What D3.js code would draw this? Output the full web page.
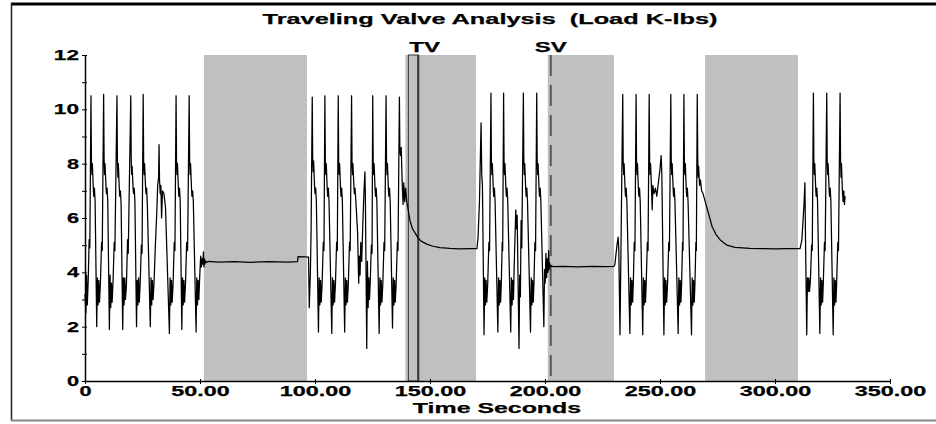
<!DOCTYPE html>
<html>
<head>
<meta charset="utf-8">
<script src="https://cdn.jsdelivr.net/npm/d3@7"></script>
<style>
  body { margin: 0; background: #fff; }
  text { font-family: "Liberation Sans", Arial, sans-serif; font-weight: bold; fill: #000; stroke: #000; stroke-width: 0.25px; }
</style>
</head>
<body>
<div id="chart"></div>
<script>
const width = 936;
const height = 424;
const margin = {top: 55, right: 46, bottom: 43, left: 85};

// load trace, [seconds, K-lbs]
const segA = [
  [0,3.2],[0.4,2.5],[0.7,3.9],[1.0,2.8],[1.4,3.7],[1.8,5.2],[2.1,4.9],
  [2.6,10.5],[2.8,8.1],[3.0,7.6],[3.2,8.0],[3.6,7.1],[3.8,6.8],[4.1,7.1],[4.4,6.6],[5.1,2.0],[5.4,3.8],[5.7,2.8],[6.0,3.7],[6.3,2.9],[6.7,3.6],[7.2,5.1],[7.5,4.8],
  [8.1,10.55],[8.3,8.2],[8.5,7.6],[8.7,8.0],[9.1,7.2],[9.3,6.9],[9.6,7.1],[9.9,6.6],[10.6,1.9],[10.9,3.9],[11.2,2.7],[11.5,3.6],[11.8,2.9],[12.2,3.7],[12.7,5.1],[13.0,4.8],
  [13.9,10.5],[14.1,8.1],[14.3,7.5],[14.5,8.0],[14.9,7.1],[15.1,6.8],[15.4,7.0],[15.7,6.5],[16.4,1.9],[16.7,3.8],[17.0,2.8],[17.3,3.8],[17.6,3.0],[18.0,3.5],[18.5,5.2],[18.8,4.7],
  [19.9,10.5],[20.1,8.2],[20.3,7.6],[20.5,7.9],[20.9,7.1],[21.1,6.9],[21.4,7.1],[21.7,6.6],[22.4,2.0],[22.7,3.7],[23.0,2.8],[23.3,3.8],[23.6,2.9],[24.0,3.6],[24.5,5.0],[24.8,4.7],
  [25.3,10.55],[25.5,8.1],[25.7,7.6],[25.9,8.0],[26.3,7.2],[26.5,6.9],[26.8,7.1],[27.1,6.5],[28.4,2.0],[28.7,3.8],[29.0,2.8],[29.3,3.7],[29.6,3.0],[30.0,3.6],[30.6,5.0],[31.2,6.2],[31.6,7.2],[32.0,7.5],[32.2,8.7],[32.4,7.4],[32.7,6.9],[33.0,7.2],[33.3,6.0],[33.7,7.0],[34.3,6.9],[35.0,6.4],[36.7,1.75],[37.0,3.8],[37.3,2.8],[37.6,3.7],[37.9,2.9],[38.3,3.6],[38.8,5.1],[39.1,4.8],
  [39.6,10.5],[39.8,8.1],[40.0,7.6],[40.2,8.0],[40.6,7.1],[40.8,6.8],[41.1,7.1],[41.4,6.6],[42.1,1.9],[42.4,3.8],[42.7,2.8],[43.0,3.7],[43.3,2.9],[43.7,3.6],[44.2,5.1],[44.6,4.8],
  [45.3,10.5],[45.5,8.1],[45.7,7.6],[45.9,8.0],[46.3,7.1],[46.5,6.8],[46.8,7.0],[47.1,6.6],[48.3,1.8],[48.6,3.8],[48.9,2.8],[49.2,3.7],[49.5,3.0],[49.9,3.9],[50.3,4.6],[50.6,4.2],[50.9,4.5],[51.2,4.3],[51.5,4.75],[51.7,4.2],[51.9,4.5],[52.1,4.3],[52.4,4.42],[52.8,4.36]
];
const segB = [
  [53.5,4.4],[58,4.38],[65,4.39],[72,4.37],[80,4.39],[88,4.38],[92.4,4.39],[92.6,4.58],[96,4.57],[97.2,4.56],[97.5,2.7],[98.0,4.0],[98.3,5.5]
];
const segC = [
  [98.8,10.45],[99.0,8.2],[99.2,7.7],[99.4,8.1],[99.8,7.2],[100.0,6.9],[100.3,7.1],[100.6,6.6],[101.5,1.8],[101.8,3.8],[102.1,2.8],[102.4,3.7],[102.7,2.9],[103.1,3.6],[103.6,5.1],[103.9,4.8],
  [104.3,10.5],[104.5,8.1],[104.7,7.6],[104.9,8.0],[105.3,7.1],[105.5,6.8],[105.8,7.1],[106.1,6.6],[107.3,1.75],[107.6,3.8],[107.9,2.8],[108.2,3.7],[108.5,2.9],[108.9,3.6],[109.4,5.1],[109.7,4.8],
  [110.1,10.5],[110.3,8.1],[110.5,7.6],[110.7,8.0],[111.1,7.1],[111.3,6.8],[111.6,7.1],[111.9,6.6],[112.9,1.8],[113.2,3.8],[113.5,2.8],[113.8,3.7],[114.1,2.9],[114.5,3.6],[115.0,5.1],[115.3,4.8],
  [115.9,10.5],[116.1,8.1],[116.3,7.6],[116.5,8.0],[116.9,7.2],[117.1,6.9],[117.4,7.1],[117.7,6.7],[118.5,5.5],[119.0,3.6],[119.3,4.6],[119.6,3.9],[119.9,5.1],[120.3,4.4],[120.8,5.8],[121.3,7.0],[121.7,7.7],[121.9,6.8],[122.5,1.2],[122.8,4.4],[123.1,2.7],[123.4,3.8],[123.7,3.0],[124.0,3.6],[124.5,5.0],[124.8,4.7],
  [125.1,10.5],[125.3,8.1],[125.5,7.6],[125.7,8.0],[126.1,7.1],[126.3,6.8],[126.6,7.1],[126.9,6.6],[127.9,1.75],[128.2,3.8],[128.5,2.8],[128.8,3.7],[129.1,2.9],[129.5,3.6],[130.0,5.1],[130.3,4.8],
  [130.9,10.5],[131.1,8.1],[131.3,7.6],[131.5,8.0],[131.9,7.1],[132.1,6.8],[132.4,7.1],[132.7,6.6],[133.7,1.95],[134.0,3.8],[134.3,2.8],[134.6,3.7],[134.9,2.9],[135.3,3.6],[135.8,5.1],[136.1,4.8]
];
const segD = [
  [136.7,10.45],[136.9,8.5],[137.2,8.3],[137.5,8.6],[137.9,7.3],[138.3,6.5],[138.6,7.3],[139.0,6.6],[139.4,7.1],[139.9,6.6],[141.3,5.9],[142.4,5.6],[143.5,5.45],[144.8,5.27],[146.1,5.15],[148.6,5.04],[151.3,4.96],[154.3,4.91],[158.7,4.88],[163,4.86],[167,4.87],[170.4,4.87]
];
const segE = [
  [170.9,5.3],[171.5,6.6],[172.2,9.5],[172.5,7.6],[172.8,7.2],[173.5,1.7],[173.8,3.8],[174.1,2.8],[174.4,3.7],[174.7,2.9],[175.1,3.6],[175.6,5.1],[175.9,4.8],
  [176.5,10.6],[176.7,8.1],[176.9,7.6],[177.1,8.0],[177.5,7.1],[177.7,6.8],[178.0,7.1],[178.3,6.6],[179.5,1.8],[179.8,3.8],[180.1,2.8],[180.4,3.7],[180.7,2.9],[181.0,3.6],[181.4,5.1],[181.6,4.8],
  [182.0,10.6],[182.2,8.1],[182.4,7.6],[182.6,8.0],[183.0,7.1],[183.2,6.8],[183.5,7.1],[183.8,6.6],[185.1,1.8],[185.4,3.8],[185.7,2.8],[186.0,3.7],[186.3,3.0],[186.6,4.2],[187.0,5.4],[187.3,6.3],[187.6,5.6],[187.9,6.1],[188.7,1.2],[189.0,3.9],[189.3,3.1],[189.6,5.9],[189.9,4.9],
  [190.6,10.6],[190.8,8.1],[191.0,7.6],[191.2,8.0],[191.6,7.1],[191.8,6.8],[192.1,7.1],[192.4,6.6],[193.7,1.8],[194.0,3.8],[194.3,2.8],[194.6,3.7],[194.9,2.9],[195.2,3.6],[195.6,5.1],[195.9,4.8],
  [196.4,10.6],[196.6,8.2],[196.8,7.6],[197.0,8.0],[197.4,7.1],[197.6,6.8],[197.9,7.1],[198.2,6.6],[199.5,2.0],[199.8,4.1],[200.1,3.6],[200.4,4.7],[200.7,3.8],[201.0,4.5],[201.3,4.0],[201.6,4.8],[201.8,4.1],[202.0,4.35],[202.3,4.2],[202.7,4.25]
];
const segF = [
  [203.5,4.21],[208,4.22],[214,4.2],[220,4.22],[226,4.21],[230.0,4.22],[230.4,4.3],[231.3,5.0],[231.8,5.3],[232.1,4.8],[232.6,1.7]
];
const segG = [
  [233.8,10.55],[234.0,8.1],[234.2,7.6],[234.4,8.0],[234.8,7.1],[235.0,6.8],[235.3,7.1],[235.6,6.6],[236.9,1.75],[237.2,3.8],[237.5,2.8],[237.8,3.7],[238.1,2.9],[238.4,3.6],[238.8,5.1],[239.1,4.8],
  [239.6,10.55],[239.8,8.1],[240.0,7.6],[240.2,8.0],[240.6,7.1],[240.8,6.8],[241.1,7.1],[241.4,6.6],[242.5,1.7],[242.8,3.8],[243.1,2.8],[243.4,3.7],[243.7,2.9],[244.0,3.6],[244.5,5.1],[244.8,4.8],
  [245.3,10.55],[245.5,8.1],[245.7,7.6],[245.9,8.0],[246.3,7.1],[246.6,6.3],[246.9,7.2],[247.4,6.9],[248.0,7.1],[248.6,6.8],[249.3,7.3],[250.0,7.8],[250.5,8.3],[250.8,7.6],[251.7,1.7],[252.0,3.8],[252.3,2.8],[252.6,3.7],[252.9,2.9],[253.3,3.6],[253.8,5.1],[254.1,4.8],
  [254.7,10.55],[254.9,8.1],[255.1,7.6],[255.3,8.0],[255.7,7.1],[255.9,6.8],[256.2,7.1],[256.5,6.6],[257.9,1.75],[258.2,3.8],[258.5,2.8],[258.8,3.7],[259.1,2.9],[259.4,3.6],[259.8,5.1],[260.0,4.8],
  [260.4,10.55],[260.6,8.1],[260.8,7.6],[261.0,8.0],[261.4,7.1],[261.6,6.8],[261.9,7.1],[262.2,6.6],[263.7,1.7],[264.0,3.8],[264.3,2.8],[264.6,3.7],[264.9,2.9],[265.2,3.6],[265.6,5.1],[265.8,4.8]
];
const segH = [
  [266.2,10.55],[266.4,8.3],[266.6,7.5],[266.8,7.9],[267.2,7.2],[267.6,7.4],[268.1,7.0],[268.7,6.9],[270.0,6.5],[271.3,6.1],[272.6,5.7],[274.3,5.4],[276.1,5.2],[279.1,5.0],[282.6,4.92],[289.1,4.88],[295,4.87],[300,4.86],[305,4.87],[310.9,4.87]
];
const segI = [
  [311.7,5.2],[312.6,6.5],[313.0,7.3],[313.3,5.0],[313.8,1.7],[314.1,3.8],[314.4,3.3],[314.7,3.8],[315.0,3.3],[315.4,3.7],[315.9,5.0],[316.2,4.8],
  [316.7,10.6],[316.9,8.1],[317.1,7.6],[317.3,8.0],[317.7,7.1],[317.9,6.8],[318.2,7.1],[318.5,6.6],[319.5,1.75],[319.8,3.8],[320.1,2.8],[320.4,3.7],[320.7,2.9],[321.0,3.6],[321.5,5.1],[321.8,4.8],
  [322.5,10.6],[322.7,8.1],[322.9,7.6],[323.1,8.0],[323.5,7.1],[323.7,6.8],[324.0,7.1],[324.3,6.6],[325.3,1.7],[325.6,3.8],[325.9,2.8],[326.2,3.7],[326.5,2.9],[326.8,3.6],[327.3,5.1],[327.6,4.8],
  [328.3,10.6],[328.5,8.2],[328.7,7.5],[328.9,8.0],[329.3,7.0],[329.6,6.6],[329.9,7.0],[330.2,6.5],[330.5,6.8]
];

// shaded test windows (seconds)
const shadeStart = [51.7, 139.3, 201.2, 269.6];
const shadeEnd = [96.5, 170.0, 230.0, 310.0];
const tvWindow = [140.6, 144.9];
const svTime = 202.5;

const xTicks = [0, 50, 100, 150, 200, 250, 300, 350];
const yTicks = [0, 1, 2, 3, 4, 5, 6, 7, 8, 9, 10, 11, 12];
const yLabels = [0, 2, 4, 6, 8, 10, 12];

const traceData = [].concat(segA, segB, segC, segD, segE, segF, segG, segH, segI);

const x = d3.scaleLinear()
  .domain([0, 350])
  .range([margin.left, width - margin.right]);

const y = d3.scaleLinear()
  .domain([0, 12])
  .range([height - margin.bottom, margin.top]);

const svg = d3.select('#chart').append('svg')
  .attr('width', width)
  .attr('height', height)
  .style('display', 'block');

// the old chart font is stretched sideways, fake it with textLength
function widen(sel) {
  sel.each(function() {
    const n = this.getComputedTextLength();
    const chars = this.textContent.length;
    if (!n) return;
    d3.select(this)
      .attr('textLength', n * 1.55 + (chars - 1) * 1)
      .attr('lengthAdjust', 'spacingAndGlyphs');
  });
}

// frame
svg.append('line').attr('x1', 11).attr('x2', width).attr('y1', 4).attr('y2', 4)
  .attr('stroke', '#000').attr('stroke-width', 3);
svg.append('line').attr('x1', 11.5).attr('x2', 11.5).attr('y1', 3).attr('y2', 421)
  .attr('stroke', '#222').attr('stroke-width', 1.5);
svg.append('line').attr('x1', 11).attr('x2', width).attr('y1', 420.5).attr('y2', 420.5)
  .attr('stroke', '#888').attr('stroke-width', 2);

// test windows
svg.append('g')
  .selectAll('rect')
  .data(shadeStart)
  .join('rect')
  .attr('x', d => x(d))
  .attr('y', y(12))
  .attr('width', (d, i) => x(shadeEnd[i]) - x(d))
  .attr('height', y(0) - y(12))
  .attr('fill', '#c0c0c0');

// TV marker box
svg.append('rect')
  .attr('x', x(tvWindow[0]))
  .attr('y', y(12))
  .attr('width', x(tvWindow[1]) - x(tvWindow[0]))
  .attr('height', y(0) - y(12))
  .attr('fill', 'none')
  .attr('stroke', '#333')
  .attr('stroke-width', 1);
svg.append('line')
  .attr('x1', x(tvWindow[1])).attr('x2', x(tvWindow[1]))
  .attr('y1', y(12)).attr('y2', y(0))
  .attr('stroke', '#333').attr('stroke-width', 2);

// SV marker
svg.append('line')
  .attr('x1', x(svTime)).attr('x2', x(svTime))
  .attr('y1', y(12)).attr('y2', y(0))
  .attr('stroke', '#555')
  .attr('stroke-width', 2)
  .attr('stroke-dasharray', '21,9');

svg.append('text').attr('class', 'lbl')
  .attr('x', x(tvWindow[0]) + 1).attr('y', 51.5)
  .attr('font-size', 15)
  .text('TV');
svg.append('text').attr('class', 'lbl')
  .attr('x', x(svTime)).attr('y', 51.5)
  .attr('text-anchor', 'middle')
  .attr('font-size', 15)
  .text('SV');

// axes
const xAxis = g => g
  .attr('transform', `translate(0,${y(0)})`)
  .call(d3.axisBottom(x).tickValues(xTicks).tickSize(3).tickSizeOuter(0)
    .tickFormat(d => d === 0 ? '0' : d3.format('.2f')(d)))
  .call(g => g.attr('font-size', 14).attr('font-family', null))
  .call(g => g.select('.domain').attr('stroke', '#000').attr('stroke-width', 1.5))
  .call(g => g.selectAll('.tick line').attr('y1', -2).attr('stroke', '#000'))
  .call(g => g.selectAll('.tick text').attr('y', 5));

const yAxis = g => g
  .attr('transform', `translate(${margin.left},0)`)
  .call(d3.axisLeft(y).tickValues(yTicks).tickSize(3).tickSizeOuter(0)
    .tickFormat(d => yLabels.includes(d) ? d : ''))
  .call(g => g.attr('font-size', 14).attr('font-family', null))
  .call(g => g.select('.domain').attr('stroke', '#000').attr('stroke-width', 1.5))
  .call(g => g.selectAll('.tick line').attr('x1', 2).attr('stroke', '#000'))
  .call(g => g.selectAll('.tick text').attr('x', -6));

svg.append('g').call(xAxis);
svg.append('g').call(yAxis);

// load trace
const line = d3.line()
  .x(d => x(d[0]))
  .y(d => y(d[1]));

svg.append('path')
  .datum(traceData)
  .attr('fill', 'none')
  .attr('stroke', '#000')
  .attr('stroke-width', 1.25)
  .attr('stroke-linejoin', 'round')
  .attr('d', line);

// titles
svg.append('text')
  .attr('x', 490).attr('y', 24)
  .attr('text-anchor', 'middle')
  .attr('font-size', 15)
  .style('white-space', 'pre')
  .text('Traveling Valve Analysis  (Load K-lbs)');

svg.append('text')
  .attr('x', 497).attr('y', 413)
  .attr('text-anchor', 'middle')
  .attr('font-size', 15)
  .text('Time Seconds');

svg.selectAll('text').call(widen);
</script>
</body>
</html>
